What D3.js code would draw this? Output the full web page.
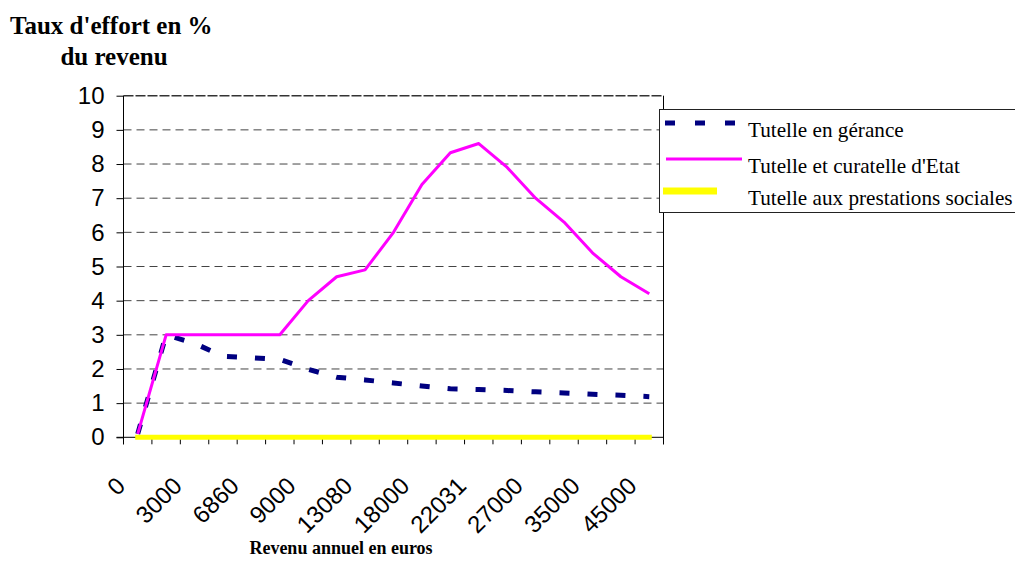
<!DOCTYPE html>
<html lang="fr">
<head>
    <meta charset="utf-8">
    <title>Taux d'effort</title>
    <script type="text/javascript" src="https://cdn.jsdelivr.net/npm/d3@7"></script>
    <style type="text/css">
        body { margin: 0; background: #fff; }
        .sans { font-family: "Liberation Sans", Arial, sans-serif; }
        .serif { font-family: "Liberation Serif", "Times New Roman", serif; }
    </style>
</head>
<body>

<script type="text/javascript">

    // categories (annual income, euros) - only every other one is labelled
    var categories = ["0", "1000", "3000", "5000", "6860", "8000", "9000", "11000", "13080", "15000",
        "18000", "20000", "22031", "24000", "27000", "30000", "35000", "40000", "45000"];

    // effort rate in % of income
    var gerance = [0.1, 3.0, 2.75, 2.37, 2.33, 2.28, 1.99, 1.76, 1.68, 1.59,
        1.5, 1.42, 1.4, 1.37, 1.33, 1.3, 1.26, 1.23, 1.19];
    var etat = [0.1, 3.0, 3.0, 3.0, 3.0, 3.0, 4.0, 4.7, 4.9, 6.0,
        7.4, 8.33, 8.6, 7.9, 7.0, 6.3, 5.4, 4.7, 4.2];
    var prestations = [0, 0, 0, 0, 0, 0, 0, 0, 0, 0,
        0, 0, 0, 0, 0, 0, 0, 0, 0];

    var y_ticks = [0, 1, 2, 3, 4, 5, 6, 7, 8, 9, 10];

    var series_names = ["Tutelle en gérance", "Tutelle et curatelle d'Etat", "Tutelle aux prestations sociales"];

    //Width and height
    var w = 1015;
    var h = 577;

    var plot_left = 123.5;
    var plot_right = 663.5;
    var plot_top = 95.7;
    var plot_bottom = 437.3;
    var tick_len = 7;

    var svg = d3.select("body")
        .append("svg")
        .attr("width", w)
        .attr("height", h);

    var xScale = d3.scaleBand()
        .domain(categories)
        .range([plot_left, plot_right])
        .padding(0);

    var yScale = d3.scaleLinear()
        .domain([0, 10])
        .range([plot_bottom, plot_top]);

    function cx(i) {
        return xScale(categories[i]) + xScale.bandwidth() / 2;
    }

    // horizontal dashed gridlines
    svg.append("g")
        .selectAll("line")
        .data(y_ticks.filter(function(d) { return d > 0; }))
        .enter()
        .append("line")
        .attr("x1", plot_left)
        .attr("x2", plot_right)
        .attr("y1", function(d) { return yScale(d); })
        .attr("y2", function(d) { return yScale(d); })
        .attr("stroke", function(d) { return d === 10 ? "#333" : "#444"; })
        .attr("stroke-width", function(d) { return d === 10 ? 1.5 : 1; })
        .attr("stroke-dasharray", function(d) { return d === 10 ? "10,2" : "8,5"; });

    // right border of plot area
    svg.append("line")
        .attr("x1", plot_right).attr("x2", plot_right)
        .attr("y1", plot_top).attr("y2", plot_bottom + tick_len)
        .attr("stroke", "#000")
        .attr("stroke-width", 1);

    // y axis
    var yAxis = d3.axisLeft(yScale)
        .tickValues(y_ticks)
        .tickSize(tick_len)
        .tickPadding(12)
        .tickFormat(d3.format("d"));

    var gy = svg.append("g")
        .attr("class", "sans")
        .attr("transform", "translate(" + plot_left + ",0)")
        .call(yAxis);
    gy.select(".domain")
        .attr("d", "M0," + plot_top + "V" + (plot_bottom + tick_len));
    gy.selectAll("text")
        .attr("font-size", 24)
        .attr("fill", "#000")
        .attr("font-family", "Liberation Sans, Arial, sans-serif");

    // x axis: ticks at band boundaries
    var boundaries = categories.map(function(c) { return xScale(c); });
    boundaries.push(plot_right);

    var gx = svg.append("g");
    gx.append("line")
        .attr("x1", plot_left - tick_len).attr("x2", plot_right)
        .attr("y1", plot_bottom).attr("y2", plot_bottom)
        .attr("stroke", "#000");
    gx.selectAll("line.tick")
        .data(boundaries)
        .enter()
        .append("line")
        .attr("class", "tick")
        .attr("x1", function(d) { return d; })
        .attr("x2", function(d) { return d; })
        .attr("y1", plot_bottom)
        .attr("y2", plot_bottom + tick_len)
        .attr("stroke", "#000");

    gx.selectAll("text")
        .data(categories.filter(function(d, i) { return i % 2 === 0; }))
        .enter()
        .append("text")
        .attr("class", "sans")
        .attr("font-size", 24)
        .attr("text-anchor", "end")
        .attr("transform", function(d) {
            var x = xScale(d) + xScale.bandwidth() / 2 - 17;
            return "translate(" + x + "," + (plot_bottom + 44) + ") rotate(-45)";
        })
        .attr("dy", "0.35em")
        .text(function(d) { return d; });

    var line = d3.line()
        .x(function(d, i) { return cx(i); })
        .y(function(d) { return yScale(d); });

    // yellow
    svg.append("path")
        .datum(prestations)
        .attr("d", line)
        .attr("fill", "none")
        .attr("stroke", "#ffff00")
        .attr("stroke-width", 5)
        .attr("stroke-linecap", "square");

    // navy dashed
    svg.append("path")
        .datum(gerance)
        .attr("d", line)
        .attr("fill", "none")
        .attr("stroke", "#000080")
        .attr("stroke-width", 5)
        .attr("stroke-dasharray", "10,18");

    // magenta
    svg.append("path")
        .datum(etat)
        .attr("d", line)
        .attr("fill", "none")
        .attr("stroke", "#ff00ff")
        .attr("stroke-width", 3)
        .attr("stroke-linejoin", "round");

    // legend
    var legend = svg.append("g");
    legend.append("rect")
        .attr("x", 659.5).attr("y", 109.5)
        .attr("width", 420).attr("height", 103)
        .attr("fill", "#fff")
        .attr("stroke", "#222")
        .attr("stroke-width", 1);

    var row_y = [123, 159, 191];
    legend.append("line")
        .attr("x1", 665).attr("x2", 740)
        .attr("y1", row_y[0]).attr("y2", row_y[0])
        .attr("stroke", "#000080").attr("stroke-width", 5)
        .attr("stroke-dasharray", "10,20");
    legend.append("line")
        .attr("x1", 666).attr("x2", 742)
        .attr("y1", row_y[1]).attr("y2", row_y[1])
        .attr("stroke", "#ff00ff").attr("stroke-width", 3);
    legend.append("line")
        .attr("x1", 663).attr("x2", 717)
        .attr("y1", row_y[2]).attr("y2", row_y[2])
        .attr("stroke", "#ffff00").attr("stroke-width", 7);

    legend.selectAll("text")
        .data(series_names)
        .enter()
        .append("text")
        .attr("class", "serif")
        .attr("font-size", 21.2)
        .attr("x", 748)
        .attr("y", function(d, i) { return row_y[i] + 14; })
        .text(function(d) { return d; });

    // titles
    svg.append("text")
        .attr("class", "serif")
        .attr("font-size", 25)
        .attr("font-weight", "bold")
        .attr("x", 10).attr("y", 34)
        .text("Taux d'effort en %");
    svg.append("text")
        .attr("class", "serif")
        .attr("font-size", 25)
        .attr("font-weight", "bold")
        .attr("text-anchor", "middle")
        .attr("x", 114).attr("y", 65)
        .text("du revenu");
    svg.append("text")
        .attr("class", "serif")
        .attr("font-size", 18)
        .attr("font-weight", "bold")
        .attr("text-anchor", "middle")
        .attr("x", 341).attr("y", 554)
        .text("Revenu annuel en euros");

</script>
</body>
</html>
